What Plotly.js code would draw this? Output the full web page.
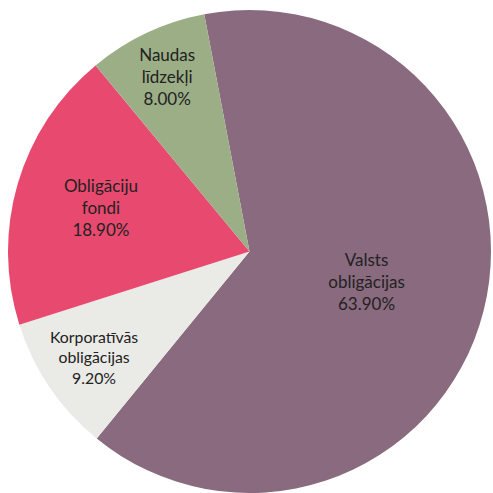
<!DOCTYPE html>
<html>
<head>
<meta charset="utf-8">
<script src="https://cdn.plot.ly/plotly-3.0.1.min.js"></script>
<style>
  html, body { margin: 0; padding: 0; background: #fff; }
  #target { width: 493px; height: 493px; }
</style>
</head>
<body>
<div id="target"></div>
<script>
  var labels = ['Valsts<br>obligācijas', 'Korporatīvās<br>obligācijas', 'Obligāciju<br>fondi', 'Naudas<br>līdzekļi'];
  var values = [63.9, 9.2, 18.9, 8.0];
  var colors = ['#896a7e', '#eaeae6', '#e8496f', '#9bae86'];

  var trace = {
    type: 'pie',
    labels: labels,
    values: values,
    sort: false,
    direction: 'clockwise',
    rotation: -10.8,
    marker: { colors: colors, line: { width: 0 } },
    texttemplate: '%{label}<br>%{value:.2f}%',
    textposition: 'inside',
    insidetextorientation: 'horizontal',
    textfont: { family: 'Lato, sans-serif', size: 17, color: '#222222' },
    hoverinfo: 'none',
    showlegend: false
  };

  var layout = {
    width: 493,
    height: 493,
    margin: { l: 6, r: 0, t: 10, b: 0 },
    paper_bgcolor: '#ffffff',
    showlegend: false
  };

  Plotly.newPlot('target', [trace], layout, { displayModeBar: false });
</script>
</body>
</html>
